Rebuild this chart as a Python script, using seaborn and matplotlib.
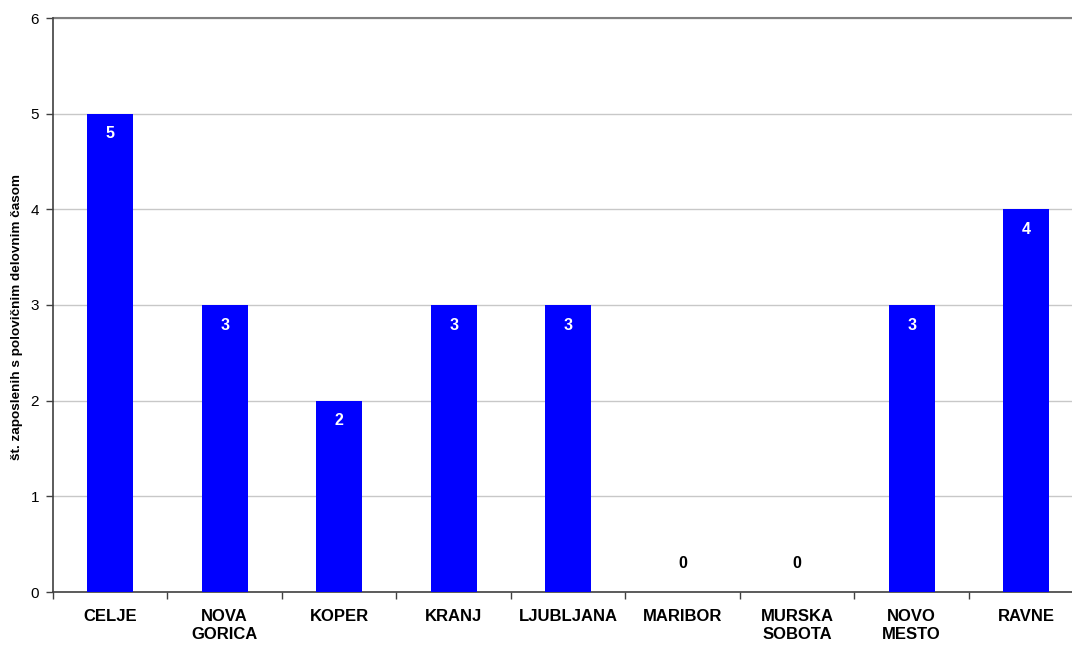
import numpy as np
import pandas as pd
import seaborn as sns
import matplotlib.pyplot as plt

# data
kraji = ["CELJE", "NOVA\nGORICA", "KOPER", "KRANJ", "LJUBLJANA",
         "MARIBOR", "MURSKA\nSOBOTA", "NOVO\nMESTO", "RAVNE"]
zaposleni = [5, 3, 2, 3, 3, 0, 0, 3, 4]
y_ticks = [0, 1, 2, 3, 4, 5, 6]

sns.set_theme(style="white")
plt.rcParams["font.family"] = ["Liberation Sans", "DejaVu Sans"]
plt.rcParams["text.color"] = "black"
plt.rcParams["axes.labelcolor"] = "black"
plt.rcParams["xtick.labelcolor"] = "black"
plt.rcParams["ytick.labelcolor"] = "black"

df = pd.DataFrame({"kraj": kraji, "n": zaposleni})

fig = plt.figure(figsize=(10.72, 6.46), dpi=100)
ax = fig.add_axes([53 / 1072, 1 - 592 / 646, 1 - 53 / 1072, (592 - 18) / 646])

sns.barplot(data=df, x="kraj", y="n", color="#0000FF", saturation=1,
            width=0.40, linewidth=0, ax=ax, zorder=3)

ax.set_ylim(0, 6)
ax.set_xlim(-0.5, 8.4)
ax.set_yticks(y_ticks)
ax.set_yticklabels([str(t) for t in y_ticks], fontsize=11)
ax.yaxis.grid(True, color="#c8c8c8", linewidth=1, zorder=0)
ax.axhline(6, color="#808080", linewidth=1.5, zorder=1, clip_on=False)

# ticks between categories, labels at centres
ax.set_xticks(np.arange(len(kraji)))
ax.set_xticklabels(kraji, fontsize=12, fontweight="bold", linespacing=1.3)
ax.set_xticks(np.arange(len(kraji)) - 0.5, minor=True)
ax.tick_params(axis="x", which="major", length=0, pad=12, labelcolor="black")
ax.tick_params(axis="x", which="minor", length=5, width=1, color="#404040",
               direction="out", bottom=True)
ax.tick_params(axis="y", length=5, width=1, color="#404040", direction="out",
               left=True, pad=5, labelcolor="black")

for side in ["top", "right"]:
    ax.spines[side].set_visible(False)
for side in ["left", "bottom"]:
    ax.spines[side].set_color("#404040")
    ax.spines[side].set_linewidth(1.2)

ax.set_xlabel("")
ax.set_ylabel("št. zaposlenih s polovičnim delovnim časom", fontsize=9.7,
              fontweight="bold", color="black")
ax.yaxis.set_label_coords(-0.0295, 0.479)

for i, v in enumerate(zaposleni):
    if v > 0:
        ax.annotate(str(v), (i, v), xytext=(0, -20), textcoords="offset points",
                    ha="center", va="bottom", color="white",
                    fontsize=11.5, fontweight="bold", zorder=4)
    else:
        ax.annotate(str(v), (i, v), xytext=(0, 15), textcoords="offset points",
                    ha="center", va="bottom", color="black",
                    fontsize=11.5, fontweight="bold", zorder=4)

fig.savefig("out.png", dpi=100)
